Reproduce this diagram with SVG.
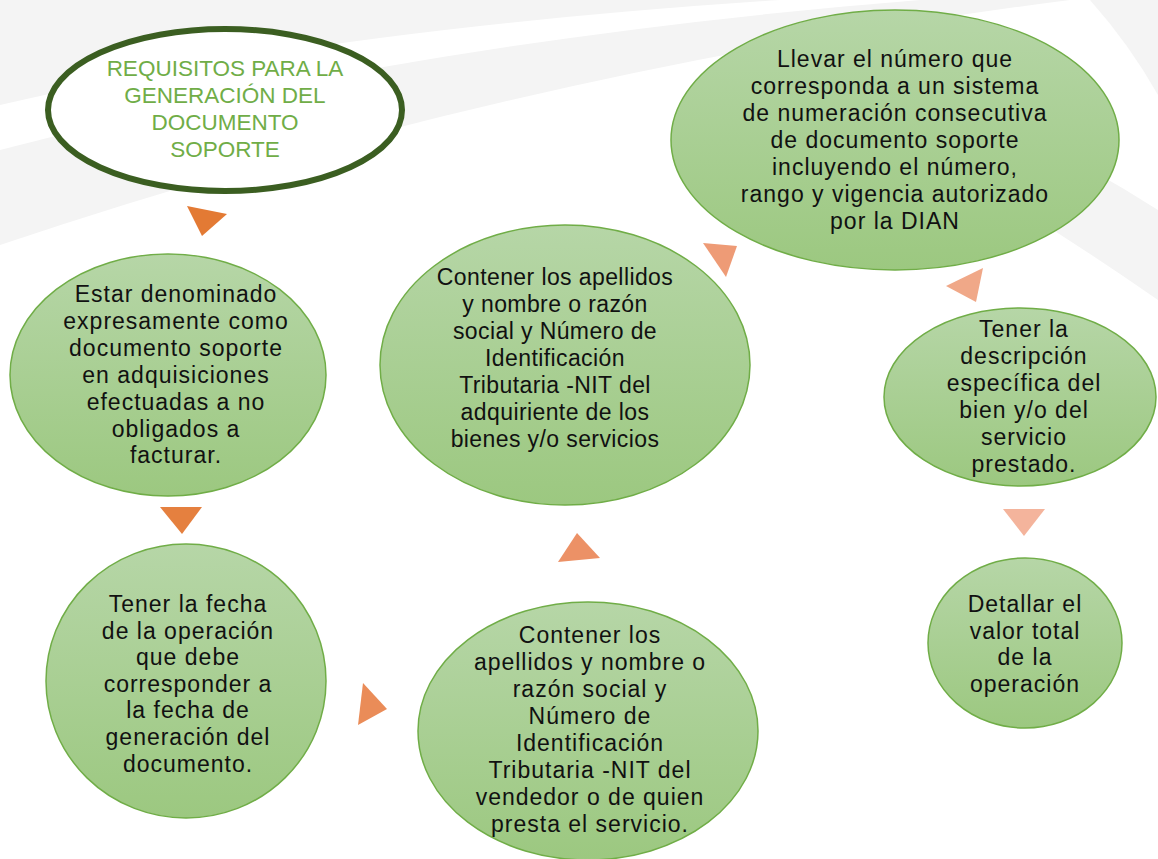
<svg xmlns="http://www.w3.org/2000/svg" width="1158" height="859" viewBox="0 0 1158 859">
<defs>
<linearGradient id="g" x1="0" y1="0" x2="0" y2="1">
<stop offset="0" stop-color="#b6d6a7"/>
<stop offset="1" stop-color="#9cc880"/>
</linearGradient>
<style>
.bg{fill:#f4f4f4}
.n{fill:url(#g);stroke:#70ad47;stroke-width:1.5}
.t{font-family:"Liberation Sans",Arial,sans-serif;font-size:23px;letter-spacing:1px;fill:#111;text-anchor:middle}
.tight{letter-spacing:0.4px}
.title{font-family:"Liberation Sans",Arial,sans-serif;font-size:22.5px;fill:#70ad47;text-anchor:middle}
</style>
</defs>
<rect width="1158" height="859" fill="#fff"/>
<g id="background">
<path class="bg" d="M0,0 H780 Q320,30 0,105 Z"/>
<path class="bg" d="M0,150 Q420,40 920,0 H1070 Q520,70 0,245 Z"/>
<path class="bg" d="M1090,0 H1158 V95 Q1130,45 1090,0 Z"/>
<path class="bg" d="M800,40 Q1000,110 1158,210 V300 Q1000,190 800,80 Z"/>
</g>
<g id="connectors">
<polygon points="187,206 227,214 202,236" fill="#e37a34"/>
<polygon points="160,507 202,507 182,534" fill="#e5803f"/>
<polygon points="363,683 387,709 358,725" fill="#ea8c58"/>
<polygon points="577,533 600,558 558,562" fill="#ec9166"/>
<polygon points="703,243 737,246 726,277" fill="#ee9b76"/>
<polygon points="983,268 976,302 946,286" fill="#f0a888"/>
<polygon points="1003,509 1045,509 1024,536" fill="#f4b49c"/>
</g>
<g id="title">
<ellipse cx="225" cy="110" rx="177" ry="81" fill="#fff" stroke="#3b5e21" stroke-width="6"/>
<text class="title"><tspan x="225" y="76">REQUISITOS PARA LA</tspan><tspan x="225" y="103">GENERACIÓN DEL</tspan><tspan x="225" y="130">DOCUMENTO</tspan><tspan x="225" y="157">SOPORTE</tspan></text>
</g>
<g id="n-numero">
<ellipse class="n" cx="895" cy="140" rx="224" ry="130"/>
<text class="t"><tspan x="895" y="67">Llevar el número que</tspan><tspan x="895" y="94">corresponda a un sistema</tspan><tspan x="895" y="121">de numeración consecutiva</tspan><tspan x="895" y="148">de documento soporte</tspan><tspan x="895" y="175">incluyendo el número,</tspan><tspan x="895" y="202">rango y vigencia autorizado</tspan><tspan x="895" y="229">por la DIAN</tspan></text>
</g>
<g id="n-adquiriente">
<ellipse class="n" cx="565" cy="365" rx="185" ry="140"/>
<text class="t tight"><tspan x="555" y="285">Contener los apellidos</tspan><tspan x="555" y="312">y nombre o razón</tspan><tspan x="555" y="339">social y Número de</tspan><tspan x="555" y="366">Identificación</tspan><tspan x="555" y="393">Tributaria -NIT del</tspan><tspan x="555" y="420">adquiriente de los</tspan><tspan x="555" y="447">bienes y/o servicios</tspan></text>
</g>
<g id="n-denominado">
<ellipse class="n" cx="168" cy="375" rx="158" ry="121"/>
<text class="t"><tspan x="176" y="302">Estar denominado</tspan><tspan x="176" y="329">expresamente como</tspan><tspan x="176" y="356">documento soporte</tspan><tspan x="176" y="383">en adquisiciones</tspan><tspan x="176" y="410">efectuadas a no</tspan><tspan x="176" y="437">obligados a</tspan><tspan x="176" y="463">facturar.</tspan></text>
</g>
<g id="n-fecha">
<ellipse class="n" cx="186" cy="681" rx="140" ry="137"/>
<text class="t"><tspan x="188" y="612">Tener la fecha</tspan><tspan x="188" y="639">de la operación</tspan><tspan x="188" y="665">que debe</tspan><tspan x="188" y="692">corresponder a</tspan><tspan x="188" y="718">la fecha de</tspan><tspan x="188" y="745">generación del</tspan><tspan x="188" y="772">documento.</tspan></text>
</g>
<g id="n-vendedor">
<ellipse class="n" cx="588" cy="731" rx="170" ry="129"/>
<text class="t"><tspan x="590" y="643">Contener los</tspan><tspan x="590" y="670">apellidos y nombre o</tspan><tspan x="590" y="697">razón social y</tspan><tspan x="590" y="724">Número de</tspan><tspan x="590" y="751">Identificación</tspan><tspan x="590" y="778">Tributaria -NIT del</tspan><tspan x="590" y="805">vendedor o de quien</tspan><tspan x="590" y="832">presta el servicio.</tspan></text>
</g>
<g id="n-descripcion">
<ellipse class="n" cx="1020" cy="397" rx="136" ry="89"/>
<text class="t"><tspan x="1024" y="337">Tener la</tspan><tspan x="1024" y="364">descripción</tspan><tspan x="1024" y="391">específica del</tspan><tspan x="1024" y="418">bien y/o del</tspan><tspan x="1024" y="445">servicio</tspan><tspan x="1024" y="472">prestado.</tspan></text>
</g>
<g id="n-valor">
<ellipse class="n" cx="1025" cy="643" rx="97" ry="85"/>
<text class="t"><tspan x="1025" y="612">Detallar el</tspan><tspan x="1025" y="639">valor total</tspan><tspan x="1025" y="665">de la</tspan><tspan x="1025" y="692">operación</tspan></text>
</g>
</svg>
